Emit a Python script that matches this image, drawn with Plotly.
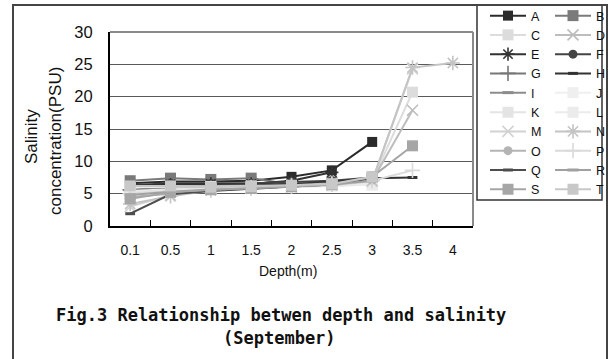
import plotly.graph_objects as go

# ---------------- data ----------------
depth = ["0.1", "0.5", "1", "1.5", "2", "2.5", "3", "3.5", "4"]
names = list("ABCDEFGHIJKLMNOPQRST")

A = [6.6, 6.9, 6.9, 7.0, 7.6, 8.6, 13.0, None, None]
B = [7.0, 7.4, 7.2, 7.4, 6.4, 6.8, 7.3, None, None]
C = [5.8, 6.0, 6.0, 6.0, 6.2, 6.4, 7.0, 20.7, None]
D = [5.0, 5.6, 5.8, 5.9, 6.2, 6.4, 7.0, 17.9, None]
E = [5.5, 6.4, 6.5, 6.5, 7.0, 8.3, None, None, None]
F = [6.3, 6.6, 6.6, 6.6, 6.8, 7.0, 7.5, None, None]
G = [5.6, 5.8, 5.9, 6.0, 6.3, 6.6, 7.2, None, None]
H = [6.2, 6.5, 6.5, 6.4, 6.5, 6.8, 7.4, 7.5, None]
I = [6.0, 6.2, 6.2, 6.2, 6.3, 6.6, 7.0, None, None]
J = [5.4, 5.7, 5.8, 5.9, 6.1, 6.3, 6.6, None, None]
K = [5.2, 5.6, 5.8, 5.9, 6.0, 6.2, 6.4, None, None]
L = [5.9, 6.1, 6.1, 6.2, 6.2, 6.5, 6.3, None, None]
M = [3.0, 4.8, 5.6, 5.8, 6.0, 6.3, 6.9, 24.3, None]
N = [3.4, 4.6, 5.5, 5.8, 6.1, 6.4, 7.0, 24.5, 25.2]
O = [4.5, 5.0, 5.5, 5.8, 6.1, 6.4, 7.1, None, None]
P = [5.0, 5.4, 5.7, 5.9, 6.2, 6.5, 7.0, 8.6, None]
Q = [1.9, 4.9, 5.4, 5.8, 6.1, 6.4, 7.4, None, None]
R = [4.8, 5.3, 5.6, 5.8, 6.1, 6.4, 7.0, None, None]
S = [4.2, 5.2, 5.6, 5.8, 6.1, 6.4, 7.6, 12.4, None]
T = [6.2, 6.2, 6.0, 6.1, 6.3, 6.5, 7.6, None, None]
series = [A, B, C, D, E, F, G, H, I, J, K, L, M, N, O, P, Q, R, S, T]

y_ticks = [0, 5, 10, 15, 20, 25, 30]

# ---------------- styles ----------------
styles = {
    "A": ("#2b2b2b", "square", 10),
    "B": ("#7a7a7a", "square", 11),
    "C": ("#dcdcdc", "square", 11),
    "D": ("#bdbdbd", "x-thin-open", 11),
    "E": ("#333333", "asterisk-open", 11),
    "F": ("#444444", "circle", 9),
    "G": ("#777777", "cross-thin-open", 11),
    "H": ("#333333", "line-ew-open", 7),
    "I": ("#8c8c8c", "line-ew-open", 8),
    "J": ("#efefef", "square", 11),
    "K": ("#e4e4e4", "square", 11),
    "L": ("#ebebeb", "square", 11),
    "M": ("#d2d2d2", "x-thin-open", 11),
    "N": ("#c4c4c4", "asterisk-open", 12),
    "O": ("#b4b4b4", "circle", 9),
    "P": ("#dadada", "cross-thin-open", 11),
    "Q": ("#4d4d4d", "line-ew-open", 7),
    "R": ("#a0a0a0", "line-ew-open", 8),
    "S": ("#a6a6a6", "square", 11),
    "T": ("#c8c8c8", "square", 11),
}

W, Hh = 610, 359
PL, PR, PT, PB = 110, 473, 32, 226


def px_x(px):
    return (px - PL) / (PR - PL)


def px_y(py):
    return (PB - py) / (PB - PT)


ROW = 19.3  # legend row pitch (px)
legend_ids = ["legend", "legend2", "legend3", "legend4"]

fig = go.Figure()
for i, (nm, vals) in enumerate(zip(names, series)):
    col, sym, sz = styles[nm]
    thin = sym.endswith("-open")
    marker = dict(symbol=sym, size=sz, color=col,
                  line=dict(color=col, width=(3 if sym.startswith("line") else 1.6) if thin else 0))
    column = i % 2
    block = 0 if i < 10 else 1
    fig.add_trace(go.Scatter(
        x=depth, y=vals, name=nm, mode="lines+markers",
        line=dict(color=col, width=2),
        marker=marker,
        connectgaps=False,
        legend=legend_ids[block * 2 + column],
    ))

legend_font = dict(family="Liberation Sans, Arial, sans-serif", size=12.5, color="#111")


def legend_at(xpx, ypx):
    return dict(x=px_x(xpx), y=px_y(ypx), xanchor="left", yanchor="top",
                orientation="v", font=legend_font, itemwidth=36,
                bgcolor="rgba(0,0,0,0)", borderwidth=0, traceorder="normal")


fig.update_layout(
    width=W, height=Hh,
    margin=dict(l=PL, r=W - PR, t=PT, b=Hh - PB, autoexpand=False),
    paper_bgcolor="white", plot_bgcolor="white",
    showlegend=True,
    legend=legend_at(485, 1),
    legend2=legend_at(550, 1),
    legend3=legend_at(485, 1 + 5 * ROW),
    legend4=legend_at(550, 1 + 5 * ROW),
    xaxis=dict(type="category", categoryorder="array", categoryarray=depth,
               range=[-0.5, len(depth) - 0.5],
               showline=True, linecolor="black", linewidth=2,
               ticks="inside", ticklen=6, tickcolor="black", tickwidth=1,
               tickson="boundaries", showgrid=False,
               tickfont=dict(family="Liberation Sans, Arial, sans-serif", size=14, color="#111"),
               ticklabelstandoff=10),
    yaxis=dict(range=[0, 30], tickvals=y_ticks, ticktext=[str(v) for v in y_ticks],
               showline=True, linecolor="black", linewidth=2,
               ticks="", showgrid=True, gridcolor="#5a5a5a", gridwidth=1,
               zeroline=False,
               tickfont=dict(family="Liberation Sans, Arial, sans-serif", size=16.5, color="#111"),
               ticklabelstandoff=12),
    font=dict(family="Liberation Sans, Arial, sans-serif", color="#111"),
    shapes=[
        dict(type="line", xref="paper", yref="paper", x0=0, x1=1, y0=1, y1=1,
             line=dict(color="#8a8a8a", width=2)),
        dict(type="line", xref="paper", yref="paper", x0=1, x1=1, y0=0, y1=1,
             line=dict(color="#8a8a8a", width=2)),
        dict(type="rect", xref="paper", yref="paper",
             x0=px_x(477), x1=px_x(602), y0=px_y(200), y1=px_y(5),
             line=dict(color="#333", width=1.5)),
        dict(type="rect", xref="paper", yref="paper",
             x0=px_x(13), x1=px_x(607), y0=px_y(366), y1=px_y(5),
             line=dict(color="#444", width=2)),
    ],
    annotations=[
        dict(text="Salinity", xref="paper", yref="paper", x=px_x(31), y=px_y(137),
             xanchor="center", yanchor="middle",
             textangle=-90, showarrow=False, font=dict(size=17)),
        dict(text="concentration(PSU)", xref="paper", yref="paper", x=px_x(55), y=px_y(141),
             xanchor="center", yanchor="middle",
             textangle=-90, showarrow=False, font=dict(size=17)),
        dict(text="Depth(m)", xref="paper", yref="paper", x=px_x(288), y=px_y(271),
             xanchor="center", yanchor="middle",
             showarrow=False, font=dict(size=14)),
        dict(text="<b>Fig.3 Relationship betwen depth and salinity</b>", xref="paper", yref="paper",
             x=px_x(281), y=px_y(315), xanchor="center", yanchor="middle", showarrow=False,
             font=dict(family="DejaVu Sans Mono, monospace", size=17, color="#111")),
        dict(text="<b>(September)</b>", xref="paper", yref="paper",
             x=px_x(279), y=px_y(338), xanchor="center", yanchor="middle", showarrow=False,
             font=dict(family="DejaVu Sans Mono, monospace", size=17, color="#111")),
    ],
)

fig.write_html("out.html")
